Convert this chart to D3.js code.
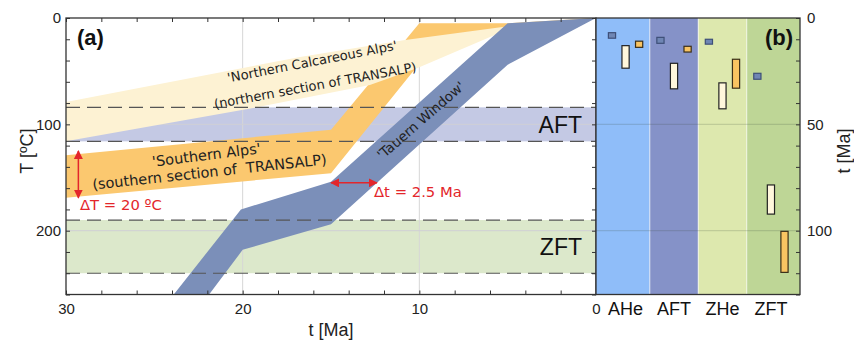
<!DOCTYPE html>
<html>
<head>
<meta charset="utf-8">
<script src="https://cdn.jsdelivr.net/npm/d3@7"></script>
<style>
  body { margin: 0; background: #fff; }
  svg { display: block; }
  .tick line { stroke: #333; }
  .tick text { font-family: "Liberation Sans", Arial, sans-serif; font-size: 15px; fill: #222; }
</style>
</head>
<body>
<svg id="chart" width="854" height="342"></svg>
<script>
// ---- data (t in Ma, T in degC) ----
const tauernUpper = [[23.9, 260], [20.1, 180], [15, 154], [5, 5], [0, 0]];
const tauernLower = [[21.9, 260], [20, 218], [15, 194], [5, 44], [0, 0]];
const southUpper = [[30, 129], [15, 105], [10, 5], [5, 5], [0, 0]];
const southLower = [[30, 169], [15, 146], [10.2, 47], [5.5, 10], [0, 0]];
const northUpper = [[30, 79], [16.75, 36.6], [10.9, 21], [5.4, 8.7], [0, 0]];
const northLower = [[30, 116], [19.2, 84], [12.8, 63], [10.1, 47], [5.6, 15], [0, 0]];

const aftZone = [84, 116];
const zftZone = [190, 240];

const tTicks = [30, 20, 10, 0];
const TTicks = [0, 100, 200];
const ageTicks = [0, 50, 100];

// panel (b): age ranges per method
const methods = ["AHe", "AFT", "ZHe", "ZFT"];
const methodColors = ["#8fbdf9", "#8592c8", "#dde8ae", "#bed696"];
const tauernAges = [[6.9, 9.5], [9.1, 11.9], [10, 12.3], [26, 28.8]];
const northAges = [[13, 23.6], [21.3, 33.3], [30.5, 42.7], [78.5, 92.2]];
const southAges = [[10.9, 13.8], [13.3, 16], [19.4, 33], [100.3, 119.6]];

const svg = d3.select("#chart");
const red = "#e3262b";

let x = d3.scaleLinear().domain([30, 0]).range([66, 596]);
let y = d3.scaleLinear().domain([0, 260]).range([18, 294.5]);
let xb = d3.scaleLinear().domain([0.39, 4.6]).range([596, 800]);
let yb = d3.scaleLinear().domain([0, 130]).range([18, 294.5]);

// ---- panel (a) ----
let pa = svg.append("g");

// thermochronometer zones
[[aftZone, "#c4c9e4"], [zftZone, "#dce8cb"]].forEach(([z, c]) => {
  pa.append("rect")
    .attr("x", x(30)).attr("width", x(0) - x(30))
    .attr("y", y(z[0])).attr("height", y(z[1]) - y(z[0]))
    .attr("fill", c);
});

// grid
tTicks.filter((d) => d > 0 && d < 30).forEach((d) => {
  pa.append("line").attr("x1", x(d)).attr("x2", x(d)).attr("y1", y(0)).attr("y2", y(260))
    .attr("stroke", "#d6d6d6").attr("stroke-width", 1);
});
TTicks.filter((d) => d > 0).forEach((d) => {
  pa.append("line").attr("x1", x(30)).attr("x2", x(0)).attr("y1", y(d)).attr("y2", y(d))
    .attr("stroke", "#cfcfd6").attr("stroke-width", 1);
});

let line = d3.line().x((d) => x(d[0])).y((d) => y(d[1]));
function band(upper, lower) {
  return line(upper.concat(lower.slice().reverse())) + "Z";
}

pa.append("path").attr("d", band(southUpper, southLower)).attr("fill", "#fbc86f");
pa.append("path").attr("d", band(northUpper, northLower)).attr("fill", "#fdf2d3");
pa.append("path").attr("d", band(tauernUpper, tauernLower)).attr("fill", "#7b8fb9");

// dashed zone limits
aftZone.concat(zftZone).forEach((d) => {
  pa.append("line").attr("x1", x(30)).attr("x2", x(0)).attr("y1", y(d)).attr("y2", y(d))
    .attr("stroke", "#555").attr("stroke-width", 1.2).attr("stroke-dasharray", "14,7");
});

// band labels
const labelFont = "'DejaVu Sans', Verdana, sans-serif";
function rotText(g, tx, ty, ang, txt, size) {
  g.append("text")
    .attr("transform", `translate(${tx},${ty}) rotate(${ang})`)
    .attr("text-anchor", "middle")
    .attr("font-family", labelFont)
    .attr("font-size", size)
    .attr("fill", "#222")
    .style("white-space", "pre")
    .text(txt);
}
rotText(pa, 313, 66, -11, "'Northern Calcareous Alps'", 13);
rotText(pa, 316, 90, -10.5, "(northern section of TRANSALP)", 13);
rotText(pa, 207, 160, -7, "'Southern Alps'", 14.5);
rotText(pa, 210, 177, -6.2, "(southern section of  TRANSALP)", 14.5);
rotText(pa, 424, 124, -41, "'Tauern Window'", 13.6);

pa.append("text").attr("x", 582).attr("y", y(100) + 8.5).attr("text-anchor", "end")
  .attr("font-family", "'Liberation Sans', Arial, sans-serif").attr("font-size", 23)
  .attr("fill", "#111").text("AFT");
pa.append("text").attr("x", 582).attr("y", y(215) + 8.5).attr("text-anchor", "end")
  .attr("font-family", "'Liberation Sans', Arial, sans-serif").attr("font-size", 23)
  .attr("fill", "#111").text("ZFT");

// red arrows
let defs = svg.append("defs");
defs.append("marker").attr("id", "head").attr("viewBox", "0 0 10 10")
  .attr("refX", 9).attr("refY", 5).attr("markerWidth", 6).attr("markerHeight", 6)
  .attr("orient", "auto-start-reverse")
  .append("path").attr("d", "M0,0L10,5L0,10Z").attr("fill", red);

pa.append("line").attr("x1", x(29.3)).attr("x2", x(29.3)).attr("y1", y(125)).attr("y2", y(169))
  .attr("stroke", red).attr("stroke-width", 1.5)
  .attr("marker-start", "url(#head)").attr("marker-end", "url(#head)");
pa.append("line").attr("x1", x(15)).attr("x2", x(12.4)).attr("y1", y(155)).attr("y2", y(155))
  .attr("stroke", red).attr("stroke-width", 1.5)
  .attr("marker-start", "url(#head)").attr("marker-end", "url(#head)");

pa.append("text").attr("x", 80).attr("y", 210).attr("font-family", labelFont)
  .attr("font-size", 14.8).attr("fill", red).text("ΔT = 20 ºC");
pa.append("text").attr("x", 374).attr("y", 197).attr("font-family", labelFont)
  .attr("font-size", 14.8).attr("fill", red).text("Δt = 2.5 Ma");

pa.append("text").attr("x", 77).attr("y", 45)
  .attr("font-family", "'Liberation Sans', Arial, sans-serif").attr("font-size", 22)
  .attr("font-weight", "bold").attr("fill", "#111").text("(a)");

// axes of panel (a)
let minorT = d3.range(0, 31, 2);
let minorTemp = d3.range(0, 261, 20);
pa.append("g").attr("transform", `translate(0,${y(260)})`)
  .call(d3.axisBottom(x).tickValues(minorT).tickSizeInner(-4).tickSizeOuter(0).tickPadding(9)
    .tickFormat((d) => (tTicks.includes(d) ? d : "")));
pa.append("g").attr("transform", `translate(0,${y(0)})`)
  .call(d3.axisTop(x).tickValues(minorT).tickSizeInner(-4).tickSizeOuter(0).tickFormat(""));
pa.append("g").attr("transform", `translate(${x(30)},0)`)
  .call(d3.axisLeft(y).tickValues(minorTemp).tickSizeInner(-4).tickSizeOuter(0).tickPadding(5)
    .tickFormat((d) => (TTicks.includes(d) ? d : "")));
pa.append("g").attr("transform", `translate(${x(0)},0)`)
  .call(d3.axisRight(y).tickValues(minorTemp).tickSizeInner(-4).tickSizeOuter(0).tickFormat(""));
pa.selectAll(".domain").remove();

pa.append("rect").attr("x", x(30)).attr("y", y(0)).attr("width", x(0) - x(30)).attr("height", y(260) - y(0))
  .attr("fill", "none").attr("stroke", "#333").attr("stroke-width", 1.3);

pa.append("text").attr("x", 331).attr("y", 336).attr("text-anchor", "middle")
  .attr("font-family", "'Liberation Sans', Arial, sans-serif").attr("font-size", 18)
  .attr("fill", "#222").text("t [Ma]");
pa.append("text").attr("transform", "translate(33,151) rotate(-90)").attr("text-anchor", "middle")
  .attr("font-family", "'Liberation Sans', Arial, sans-serif").attr("font-size", 18)
  .attr("fill", "#222").text("T [ºC]");

// ---- panel (b) ----
let pb = svg.append("g");
methods.forEach((m, i) => {
  let x0 = i === 0 ? xb.domain()[0] : i + 0.5;
  let x1 = i === methods.length - 1 ? xb.domain()[1] : i + 1.5;
  pb.append("rect").attr("x", xb(x0)).attr("width", xb(x1) - xb(x0))
    .attr("y", yb(0)).attr("height", yb(130) - yb(0)).attr("fill", methodColors[i]);
});
// column separators
[1.5, 2.5, 3.5].forEach((d) => {
  pb.append("line").attr("x1", xb(d)).attr("x2", xb(d)).attr("y1", yb(0)).attr("y2", yb(130))
    .attr("stroke", "#fff").attr("stroke-opacity", 0.55).attr("stroke-width", 1.2);
});
ageTicks.filter((d) => d > 0).forEach((d) => {
  pb.append("line").attr("x1", xb.range()[0]).attr("x2", xb.range()[1]).attr("y1", yb(d)).attr("y2", yb(d))
    .attr("stroke", "#3a4a3a").attr("stroke-opacity", 0.18).attr("stroke-width", 1.2);
});

let series = [
  { ages: tauernAges, off: -0.28, fill: "#6f86b4", stroke: "#3e4f78" },
  { ages: northAges, off: 0, fill: "#fff7dc", stroke: "#222" },
  { ages: southAges, off: 0.28, fill: "#f9c462", stroke: "#3a2e18" },
];
series.forEach((s) => {
  pb.selectAll(null).data(s.ages).join("rect")
    .attr("x", (d, i) => xb(i + 1 + s.off) - 3.6)
    .attr("width", 7.2)
    .attr("y", (d) => yb(d[0]))
    .attr("height", (d) => yb(d[1]) - yb(d[0]))
    .attr("fill", s.fill).attr("stroke", s.stroke).attr("stroke-width", 1.2);
});

pb.append("g").attr("transform", `translate(${xb.range()[1]},0)`)
  .call(d3.axisRight(yb).tickValues(d3.range(0, 131, 10)).tickSizeInner(-4).tickSizeOuter(0).tickPadding(7)
    .tickFormat((d) => (ageTicks.includes(d) ? d : "")));
pb.selectAll(".domain").remove();

pb.append("rect").attr("x", xb.range()[0]).attr("y", yb(0))
  .attr("width", xb.range()[1] - xb.range()[0]).attr("height", yb(130) - yb(0))
  .attr("fill", "none").attr("stroke", "#333").attr("stroke-width", 1.3);

methods.forEach((m, i) => {
  pb.append("text").attr("x", xb(i + 1)).attr("y", 315).attr("text-anchor", "middle")
    .attr("font-family", "'Liberation Sans', Arial, sans-serif").attr("font-size", 18)
    .attr("fill", "#111").text(m);
});

pb.append("text").attr("x", 793).attr("y", 45).attr("text-anchor", "end")
  .attr("font-family", "'Liberation Sans', Arial, sans-serif").attr("font-size", 22)
  .attr("font-weight", "bold").attr("fill", "#111").text("(b)");

pb.append("text").attr("transform", "translate(850,151) rotate(-90)").attr("text-anchor", "middle")
  .attr("font-family", "'Liberation Sans', Arial, sans-serif").attr("font-size", 18)
  .attr("fill", "#222").text("t [Ma]");
</script>
</body>
</html>
